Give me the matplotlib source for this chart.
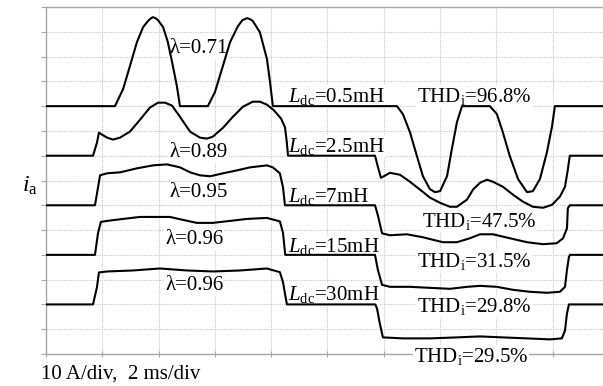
import numpy as np
import matplotlib
matplotlib.use("Agg")
import matplotlib.pyplot as plt

plt.rcParams["font.family"] = ["Liberation Serif", "DejaVu Serif"]
plt.rcParams["mathtext.fontset"] = "custom"
plt.rcParams["mathtext.rm"] = "Liberation Serif"
plt.rcParams["mathtext.it"] = "Liberation Serif:italic"

# time in ms, phase current in A
t_05 = [0, 2.45, 2.74, 2.98, 3.23, 3.45, 3.62, 3.71, 3.80, 3.89, 3.98, 4.16, 4.33, 4.51, 4.65, 4.76,
        5.75, 6.00, 6.25, 6.54, 6.82, 6.98, 7.14, 7.25, 7.35, 7.60, 7.85, 7.96, 8.06,
        12.47, 12.68, 12.93, 13.18, 13.39, 13.64, 13.82, 14.00, 14.25, 14.42, 14.60, 14.78,
        15.77, 16.02, 16.23, 16.48, 16.77, 17.09, 17.30, 17.55, 17.80, 17.98, 18.08, 19.8]
i_05 = [0, 0, 6.9, 16.1, 25.8, 31.9, 34.3, 35.3, 35.9, 35.5, 34.7, 31.9, 25.8, 16.1, 8.1, 0,
        0, 5.6, 14.9, 25.8, 32.3, 34.7, 35.5, 35.1, 34.3, 29.8, 19.0, 9.7, 0,
        0, -3.2, -10.5, -20.2, -28.2, -33.5, -34.7, -34.3, -28.2, -17.3, -6.5, 0,
        0, -3.2, -10.5, -20.2, -29.4, -34.7, -34.3, -29.4, -18.5, -8.1, 0, 0]

t_25 = [0, 1.67, 1.81, 1.88, 1.99, 2.17, 2.38, 2.63, 2.98, 3.34, 3.69, 3.98, 4.23, 4.48,
        4.76, 5.12, 5.47, 5.72, 5.93, 6.29, 6.64, 7.00, 7.35, 7.60, 7.85, 8.10, 8.35,
        8.49, 8.55, 8.60,
        11.69, 11.79, 11.90, 12.00, 12.22, 12.58, 12.93, 13.29, 13.64, 14.00, 14.35, 14.60,
        14.96, 15.17, 15.42, 15.67, 15.88, 16.23, 16.59, 16.94, 17.30, 17.66, 17.98, 18.26,
        18.44, 18.54, 18.61, 19.8]
i_25 = [0, 0, 5.2, 9.3, 8.5, 7.3, 6.5, 7.3, 9.7, 14.5, 19.4, 21.4, 21.4, 20.2,
        15.7, 9.7, 7.3, 6.9, 7.7, 11.3, 15.7, 19.8, 21.8, 21.8, 20.6, 18.3, 15.0,
        11.5, 6.0, 0,
        0, -4.4, -8.9, -8.3, -6.9, -7.7, -10.5, -13.7, -16.9, -19.0, -20.6, -20.6,
        -17.7, -13.7, -10.9, -9.7, -10.5, -12.5, -15.7, -18.5, -20.6, -21.0, -19.8, -16.5,
        -12.5, -5.6, 0, 0]

t_7 = [0, 1.74, 1.85, 1.92, 2.17, 2.63, 3.23, 3.80, 4.30, 4.76, 5.12, 5.47, 5.83, 6.29,
       6.79, 7.25, 7.85, 8.06, 8.31, 8.42, 8.49,
       11.69, 11.79, 11.94, 12.22, 12.82, 13.39, 14.10, 14.60, 15.06, 15.42, 15.88, 16.48,
       17.09, 17.66, 18.15, 18.37, 18.51, 18.54, 18.61, 19.8]
i_7 = [0, 0, 7.3, 12.1, 12.9, 13.3, 14.9, 16.1, 16.5, 15.3, 13.3, 12.1, 11.7, 12.9,
       14.1, 15.3, 16.1, 15.3, 12.9, 7.3, 0,
       0, -4.0, -11.3, -12.1, -11.7, -12.9, -14.9, -14.9, -13.3, -11.7, -11.7, -13.3,
       -14.9, -15.7, -15.3, -13.3, -9.3, -1.2, 0, 0]

t_15 = [0, 1.74, 1.85, 1.95, 2.17, 2.74, 3.34, 3.94, 4.40, 4.87, 5.36, 5.93, 6.54, 7.14,
        7.85, 8.31, 8.42, 8.50,
        11.69, 11.79, 11.94, 12.22, 12.93, 13.64, 14.35, 14.96, 15.42, 16.02, 16.59, 17.19,
        17.80, 18.26, 18.44, 18.51, 18.58, 18.62, 19.8]
i_15 = [0, 0, 8.9, 13.3, 13.7, 14.5, 15.3, 15.3, 15.3, 14.1, 12.9, 12.9, 13.7, 14.5,
        14.9, 13.5, 8.9, 0,
        0, -6.0, -12.1, -12.9, -12.9, -13.3, -13.7, -12.9, -12.5, -12.9, -14.1, -14.9,
        -15.3, -14.9, -12.9, -6.0, -0.8, 0, 0]

t_30 = [0, 1.67, 1.81, 1.88, 2.17, 3.09, 4.05, 5.01, 5.93, 6.89, 7.85, 8.31, 8.42, 8.49,
        8.56,
        11.70, 11.76, 11.86, 11.97, 12.68, 13.64, 14.60, 15.42, 16.23, 17.09, 17.90, 18.33,
        18.44, 18.51, 18.58, 19.8]
i_30 = [0, 0, 6.9, 12.9, 13.3, 13.7, 14.5, 13.7, 13.3, 13.7, 14.5, 13.0, 9.0, 4.4,
        0,
        0, -1.6, -7.7, -13.3, -13.7, -13.7, -13.3, -12.9, -13.3, -13.7, -14.1, -13.7,
        -10.5, -3.6, 0, 0]

times = [t_05, t_25, t_7, t_15, t_30]
currents = [i_05, i_25, i_7, i_15, i_30]
offsets = [100, 80, 60, 40, 20]   # 20 A (2 div) between traces

inductance_labels = ["0.5mH", "2.5mH", "7mH", "15mH", "30mH"]
lambda_labels = ["0.71", "0.89", "0.95", "0.96", "0.96"]
thd_labels = ["96.8%", "47.5%", "31.5%", "29.8%", "29.5%"]

fig = plt.figure(figsize=(6.03, 3.86), dpi=100)
ax = fig.add_axes([46 / 603, 1 - 354 / 386, 1 - 46 / 603, 347 / 386])

for t, i, off in zip(times, currents, offsets):
    ax.plot(t, np.array(i) + off, color="black", lw=1.5, zorder=3,
            solid_joinstyle="round")

ax.set_xlim(0, 19.79)
ax.set_ylim(0, 140)
ax.set_xticks(np.arange(0, 20, 2))
ax.set_yticks(np.arange(0, 141, 10))
ax.set_xticklabels([])
ax.set_yticklabels([])
ax.set_axisbelow(True)
ax.grid(True, color="#c8c8c8", linestyle=(0, (1, 1)), lw=0.8)
for side in ["left", "bottom", "top"]:
    ax.spines[side].set_color("#a8a8a8")
    ax.spines[side].set_linewidth(1.0)
ax.spines["right"].set_visible(False)
ax.tick_params(axis="y", direction="out", length=3.5, color="#a8a8a8")
ax.tick_params(axis="x", direction="inout", length=5, color="#a8a8a8")

box = dict(facecolor="white", edgecolor="none", pad=0.5)
fs = 15

L_pos = [(8.6, 101.7), (8.6, 81.5), (8.6, 61.3), (8.6, 41.1), (8.6, 21.8)]
lam_pos = [(4.40, 121.4), (4.40, 79.5), (4.40, 63.3), (4.23, 44.4), (4.23, 25.8)]
thd_pos = [(13.18, 101.7), (13.36, 51.4), (13.18, 35.1), (13.18, 16.9), (13.07, -3.2)]

for lab, (x, y) in zip(inductance_labels, L_pos):
    ax.text(x, y, r"$L_{\mathrm{dc}}$=" + lab, fontsize=fs, va="baseline",
            ha="left", bbox=box, zorder=2.7)
for lab, (x, y) in zip(lambda_labels, lam_pos):
    ax.text(x, y, "λ=" + lab, fontsize=fs, va="baseline", ha="left",
            bbox=box, zorder=2.7)
for lab, (x, y) in zip(thd_labels, thd_pos):
    ax.text(x, y, r"THD$_{\mathrm{i}}$=" + lab, fontsize=fs, va="baseline",
            ha="left", bbox=box, zorder=2.7, clip_on=False)

fig.text(22 / 603, 1 - 192 / 386, r"$i_{\mathrm{a}}$", fontsize=17, va="baseline")
fig.text(41 / 603, 1 - 379 / 386, "10 A/div,  2 ms/div", fontsize=fs, va="baseline")

fig.savefig("out.png", dpi=100)
